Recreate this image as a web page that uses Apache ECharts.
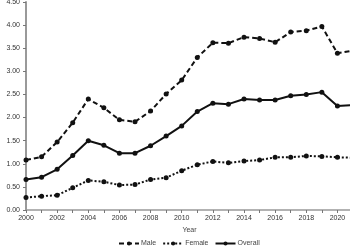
<!DOCTYPE html>
<html>
<head>
<meta charset="utf-8">
<script src="https://cdn.jsdelivr.net/npm/echarts@6/dist/echarts.min.js"></script>
<style>html,body{margin:0;padding:0;background:#fff;overflow:hidden}#c{width:350px;height:250px}</style>
</head>
<body>
<div id="c"></div>
<script>
var years = [2000,2001,2002,2003,2004,2005,2006,2007,2008,2009,2010,2011,2012,2013,2014,2015,2016,2017,2018,2019,2020,2021];
var male = [1.08,1.15,1.47,1.89,2.40,2.21,1.95,1.91,2.14,2.51,2.81,3.30,3.62,3.61,3.74,3.71,3.63,3.85,3.88,3.97,3.39,3.45];
var female = [0.27,0.30,0.32,0.48,0.64,0.61,0.54,0.55,0.66,0.70,0.85,0.98,1.05,1.02,1.06,1.08,1.14,1.14,1.17,1.16,1.14,1.13];
var overall = [0.66,0.71,0.88,1.18,1.50,1.40,1.23,1.23,1.39,1.60,1.82,2.13,2.31,2.29,2.40,2.38,2.38,2.47,2.50,2.55,2.25,2.27];
var seriesNames = ['Male','Female','Overall'];

function pairs(v){ return years.map(function(y,i){ return [y, v[i]]; }); }
var font = 'Liberation Sans';
function mk(name, data, type){
  return {
    name: name, type: 'line', data: pairs(data),
    symbol: 'circle', symbolSize: 5, showSymbol: true,
    itemStyle: {color: '#111'},
    lineStyle: {color: '#111', width: 2, type: type},
    animation: false
  };
}
var chart = echarts.init(document.getElementById('c'));
chart.setOption({
  animation: false,
  grid: {left: 26, right: -3, top: 2, bottom: 40, containLabel: false, outerBoundsMode: 'none'},
  xAxis: {
    type: 'value', min: 2000, max: 2021, interval: 1,
    name: 'Year', nameLocation: 'middle', nameGap: 17,
    nameTextStyle: {fontFamily: font, fontSize: 7, color: '#444'},
    axisLine: {lineStyle: {color: '#999', width: 1.5}},
    axisTick: {show: true, length: 3, lineStyle: {color: '#777'}},
    axisLabel: {fontFamily: font, fontSize: 7, color: '#333', margin: 5,
      formatter: function(v){ return v % 2 === 0 ? String(v) : ''; }},
    splitLine: {show: false}
  },
  yAxis: {
    type: 'value', min: 0, max: 4.5, interval: 0.5,
    axisLine: {show: true, lineStyle: {color: '#999', width: 2}},
    axisTick: {show: true, length: 3, lineStyle: {color: '#777'}},
    axisLabel: {fontFamily: font, fontSize: 7, color: '#333', margin: 6,
      formatter: function(v){ return v.toFixed(2); }},
    splitLine: {show: false}
  },
  legend: {
    data: seriesNames, bottom: -2, left: 113,
    itemWidth: 20, itemHeight: 5, itemGap: 6,
    textStyle: {fontFamily: font, fontSize: 7, color: '#444', padding: [0,0,0,-3]}
  },
  series: [mk('Male', male, [5,3]), mk('Female', female, [2,2]), mk('Overall', overall, 'solid')]
});
</script>
</body>
</html>
